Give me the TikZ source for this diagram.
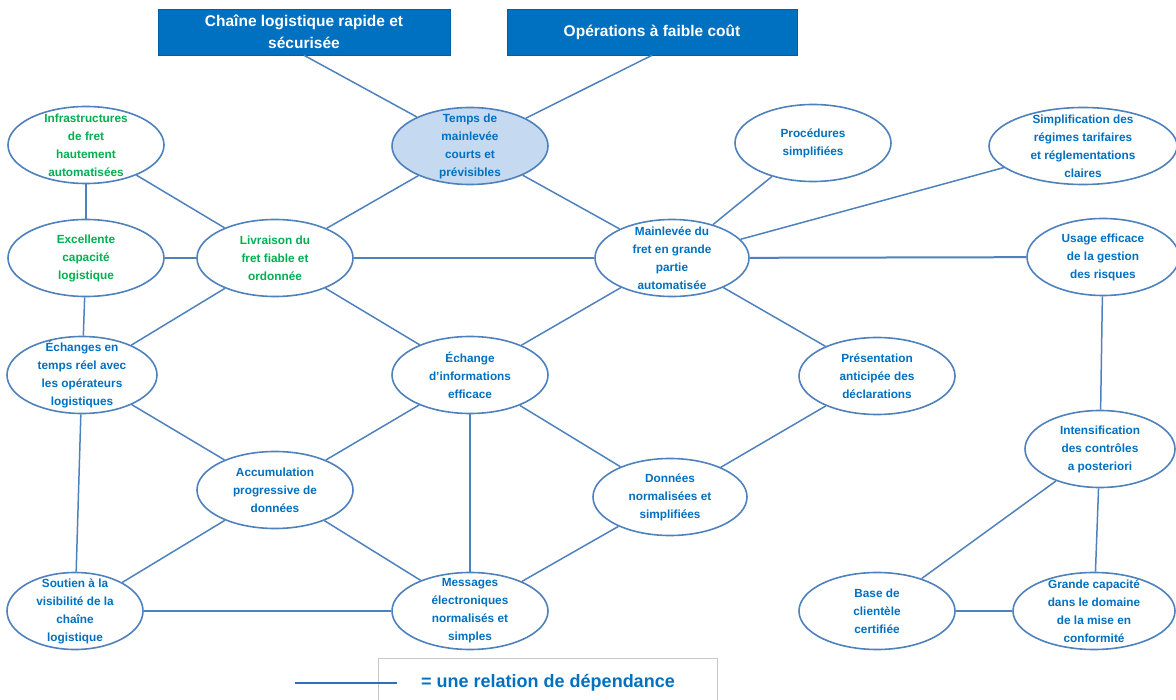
\documentclass[tikz,border=0pt]{standalone}
\usepackage{fontspec}
\setmainfont{Liberation Sans}
\usetikzlibrary{shapes.geometric}
\definecolor{boxblue}{RGB}{0,112,192}
\definecolor{txtblue}{RGB}{0,112,192}
\definecolor{txtgreen}{RGB}{0,176,80}
\definecolor{rimblue}{RGB}{79,129,189}
\definecolor{keyblue}{RGB}{52,108,184}
\definecolor{lightfill}{RGB}{197,217,241}
% ellipse with its text set as a separate, centred node
\newcommand\mkbubble[6][]{%
  \node[bubble, minimum width=#4, #1] (#2) at (#3) {};
  \node[#5] (#2-t) at (#3) {#6};}
\begin{document}
\begin{tikzpicture}[x=1pt,y=-1pt,
  bubble/.style={ellipse, draw=rimblue, line width=1.6pt, fill=white,
    inner sep=0pt, minimum height=77pt},
  words/.style={font=\bfseries\fontsize{11.8}{18}\selectfont, text=txtblue,
    align=center, inner sep=0pt},
  greenwords/.style={words, text=txtgreen},
  link/.style={draw=rimblue, line width=1.5pt},
  banner/.style={fill=boxblue, draw=boxblue!85!black, line width=0.6pt, text=white,
    font=\bfseries\fontsize{15.5}{22}\selectfont, align=center, inner sep=0pt,
    minimum height=46pt}]
\useasboundingbox (0,0) rectangle (1176,700);

% goals
\node[banner, minimum width=292pt] (goal1) at (304,32) {Chaîne logistique rapide et\\sécurisée};
\node[banner, minimum width=290pt] (goal2) at (652,32) {Opérations à faible coût};

% left column
\mkbubble{infra}{86,145}{156pt}{greenwords}{Infrastructures\\de fret\\hautement\\automatisées}
\mkbubble{excell}{86,258}{156pt}{greenwords}{Excellente\\capacité\\logistique}
\mkbubble{echanges}{82,375}{150pt}{words}{Échanges en\\temps réel avec\\les opérateurs\\logistiques}
\mkbubble{soutien}{75,611}{136pt}{words}{Soutien à la\\visibilité de la\\chaîne\\logistique}

% centre
\mkbubble{livraison}{275,258}{156pt}{greenwords}{Livraison du\\fret fiable et\\ordonnée}
\mkbubble[fill=lightfill]{temps}{470,146}{156pt}{words}{Temps de\\mainlevée\\courts et\\prévisibles}
\mkbubble{echinfo}{470,375}{156pt}{words}{Échange\\d’informations\\efficace}
\mkbubble{accum}{275,490}{156pt}{words}{Accumulation\\progressive de\\données}
\mkbubble{messages}{470,611}{156pt}{words}{Messages\\électroniques\\normalisés et\\simples}
\mkbubble{mainlevee}{672,258}{154pt}{words}{Mainlevée du\\fret en grande\\partie\\automatisée}
\mkbubble{donnees}{670,497}{154pt}{words}{Données\\normalisées et\\simplifiées}

% right side
\mkbubble{procedures}{813,143}{156pt}{words}{Procédures\\simplifiées}
\mkbubble{simpl}{1083,146}{188pt}{words}{Simplification des\\régimes tarifaires\\et réglementations\\claires}
\mkbubble{usage}{1103,257}{152pt}{words}{Usage efficace\\de la gestion\\des risques}
\mkbubble{presentation}{877,376}{156pt}{words}{Présentation\\anticipée des\\déclarations}
\mkbubble{intens}{1100,449}{150pt}{words}{Intensification\\des contrôles\\a posteriori}
\mkbubble{base}{877,611}{156pt}{words}{Base de\\clientèle\\certifiée}
\mkbubble{grande}{1094,611}{162pt}{words}{Grande capacité\\dans le domaine\\de la mise en\\conformité}

% dependency links
\foreach \a/\b in {goal1.south/temps, goal2.south/temps,
    temps/livraison, temps/mainlevee,
    infra/excell, infra/livraison, excell/livraison, excell/echanges,
    livraison/mainlevee, livraison/echanges, livraison/echinfo,
    mainlevee/procedures, mainlevee/simpl, mainlevee/echinfo, mainlevee/presentation,
    usage/intens, intens/base, intens/grande,
    presentation/donnees,
    echanges/soutien, echanges/accum,
    echinfo/accum, echinfo/messages, echinfo/donnees,
    accum/soutien, accum/messages, soutien/messages, donnees/messages}
  \draw[link] (\a) -- (\b);
\draw[link, line width=2pt] (mainlevee) -- (usage);
\draw[link, line width=2pt] (base) -- (grande);

% legend
\coordinate (frameA) at (378,700);
\coordinate (frameB) at (717,658);
\coordinate (frameC) at (717,700);
\draw[gray!45, line width=0.8pt] (frameA) |- (frameB) -- (frameC);
\coordinate (keyL) at (295,683);
\coordinate (keyR) at (397,683);
\draw[keyblue, line width=2.6pt] (keyL) -- (keyR);
\node[font=\bfseries\fontsize{18}{22}\selectfont, text=txtblue, anchor=west, inner sep=0pt]
  (legendtext) at (421,683) {= une relation de dépendance};
\end{tikzpicture}
\end{document}
